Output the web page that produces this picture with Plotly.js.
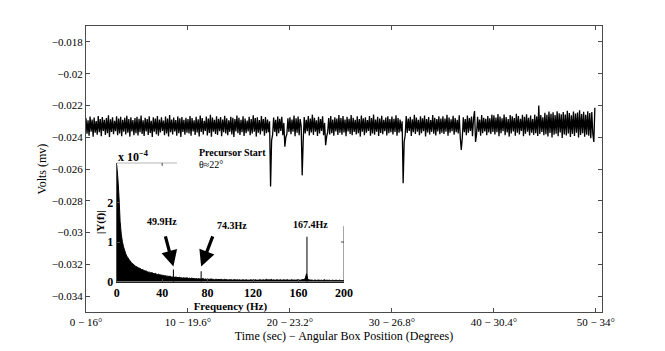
<!DOCTYPE html>
<html>
<head>
<meta charset="utf-8">
<script src="https://cdn.plot.ly/plotly-3.0.1.min.js"></script>
<style>
    html, body { margin: 0; padding: 0; background: #fff; }
    #plot { width: 665px; height: 351px; }
</style>
</head>
<body>
<div id="plot"></div>
<script>
// Sampled voltage, one value every 0.1 s, in units of 1e-5 mV
var signalE5 = [
    -2281,-2378,-2294,-2390,-2270,-2365,-2288,-2397,-2276,-2372,-2299,-2384,-2267,-2369,-2285,-2393,-2273,-2361,-2291,-2386,
    -2279,-2374,-2262,-2399,-2287,-2367,-2275,-2381,-2296,-2362,-2269,-2388,-2283,-2376,-2271,-2394,-2290,-2366,-2278,-2383,
    -2265,-2371,-2286,-2396,-2274,-2363,-2292,-2387,-2280,-2375,
    -2272,-2389,-2284,-2368,-2263,-2379,-2293,-2392,-2277,-2364,-2286,-2385,-2268,-2373,-2297,-2398,-2275,-2366,-2282,-2381,
    -2266,-2391,-2289,-2370,-2274,-2360,-2295,-2387,-2270,-2377,-2283,-2395,-2261,-2368,-2288,-2382,-2276,-2363,-2292,-2390,
    -2269,-2374,-2281,-2399,-2273,-2367,-2290,-2384,-2278,-2371,
    -2285,-2376,-2266,-2391,-2279,-2364,-2293,-2386,-2272,-2370,-2287,-2395,-2264,-2367,-2280,-2382,-2296,-2361,-2270,-2389,
    -2283,-2373,-2259,-2397,-2276,-2365,-2291,-2380,-2268,-2386,-2284,-2362,-2273,-2393,-2289,-2369,-2265,-2377,-2281,-2388,
    -2294,-2366,-2271,-2383,-2278,-2399,-2286,-2364,-2263,-2375,
    -2277,-2386,-2290,-2369,-2268,-2392,-2283,-2374,-2295,-2363,-2271,-2388,-2286,-2377,-2262,-2366,-2280,-2396,-2274,-2371,
    -2292,-2383,-2267,-2362,-2285,-2390,-2273,-2375,-2289,-2368,-2300,-2710,-2420,-2384,-2276,-2366,-2291,-2393,-2269,-2374,
    -2284,-2361,-2272,-2388,-2310,-2460,-2400,-2379,-2281,-2367,
    -2275,-2381,-2289,-2366,-2264,-2393,-2281,-2372,-2270,-2387,-2286,-2330,-2640,-2420,-2273,-2376,-2291,-2362,-2267,-2389,
    -2282,-2370,-2258,-2385,-2278,-2365,-2294,-2392,-2271,-2377,-2285,-2360,-2269,-2388,-2310,-2450,-2395,-2368,-2279,-2383,
    -2266,-2374,-2288,-2391,-2274,-2363,-2283,-2386,-2261,-2371,
    -2280,-2384,-2266,-2370,-2289,-2393,-2272,-2363,-2284,-2379,-2260,-2388,-2277,-2367,-2291,-2382,-2269,-2374,-2286,-2396,
    -2263,-2365,-2281,-2387,-2274,-2371,-2292,-2360,-2267,-2390,-2279,-2377,-2257,-2384,-2288,-2366,-2271,-2392,-2283,-2373,
    -2265,-2381,-2290,-2362,-2276,-2389,-2268,-2375,-2285,-2368,
    -2270,-2383,-2284,-2367,-2262,-2390,-2279,-2372,-2288,-2364,-2300,-2690,-2430,-2386,-2266,-2373,-2283,-2361,-2271,-2392,
    -2287,-2369,-2259,-2380,-2276,-2365,-2290,-2388,-2268,-2374,-2281,-2362,-2264,-2395,-2285,-2370,-2273,-2383,-2292,-2366,
    -2261,-2378,-2278,-2389,-2286,-2363,-2269,-2381,-2283,-2372,
    -2268,-2380,-2282,-2366,-2259,-2391,-2276,-2371,-2287,-2362,-2265,-2384,-2279,-2369,-2290,-2377,-2262,-2400,-2480,-2405,
    -2274,-2368,-2285,-2387,-2263,-2372,-2280,-2361,-2270,-2393,-2283,-2235,-2430,-2382,-2272,-2365,-2288,-2390,-2260,-2374,
    -2277,-2363,-2284,-2388,-2266,-2370,-2281,-2379,-2258,-2367,
    -2262,-2382,-2276,-2368,-2254,-2393,-2270,-2374,-2281,-2362,-2257,-2387,-2273,-2370,-2285,-2396,-2260,-2376,-2268,-2364,
    -2279,-2390,-2252,-2372,-2266,-2383,-2284,-2361,-2259,-2394,-2271,-2378,-2255,-2366,-2278,-2389,-2263,-2371,-2286,-2385,
    -2258,-2375,-2269,-2392,-2200,-2380,-2261,-2367,-2274,-2388,
    -2246,-2381,-2258,-2396,-2239,-2373,-2252,-2401,-2243,-2385,-2261,-2378,-2236,-2393,-2249,-2370,-2255,-2404,-2241,-2383,
    -2257,-2389,-2233,-2376,-2248,-2398,-2262,-2379,-2238,-2392,-2251,-2371,-2244,-2402,-2230,-2386,-2254,-2375,-2240,-2397,
    -2259,-2384,-2237,-2391,-2247,-2406,-2242,-2380,-2430,-2215
];
var sampleStep = 0.1;

var timeTicks = [0, 10, 20, 30, 40, 50];
var timeTickText = ['0 − 16°', '10 − 19.6°', '20 − 23.2°', '30 − 26.8°', '40 − 30.4°', '50 − 34°'];
var voltTicks = [-0.034, -0.032, -0.03, -0.028, -0.026, -0.024, -0.022, -0.02, -0.018];
var voltTickText = ['−0.034', '−0.032', '−0.03', '−0.028', '−0.026', '−0.024', '−0.022', '−0.02', '−0.018'];

// |Y(f)| at 1 Hz steps from 0 to 200 Hz, in units of 1e-4
var fftMag = [
    2.95, 2.62, 2.15, 1.52, 1.2, 1.01, 0.88, 0.79, 0.7, 0.64,
    0.6, 0.55, 0.52, 0.47, 0.46, 0.42, 0.41, 0.38, 0.37, 0.35,
    0.34, 0.33, 0.3, 0.31, 0.28, 0.27, 0.27, 0.25, 0.24, 0.24,
    0.22, 0.23, 0.21, 0.2, 0.21, 0.19, 0.18, 0.19, 0.17, 0.17,
    0.16, 0.16, 0.15, 0.15, 0.14, 0.14, 0.13, 0.14, 0.12, 0.12,
    0.12, 0.11, 0.12, 0.11, 0.1, 0.11, 0.1, 0.1, 0.09, 0.1,
    0.09, 0.09, 0.1, 0.08, 0.09, 0.08, 0.09, 0.08, 0.08, 0.07,
    0.08, 0.07, 0.08, 0.07, 0.07, 0.07, 0.08, 0.06, 0.07, 0.06,
    0.07, 0.06, 0.06, 0.07, 0.06, 0.06, 0.05, 0.06, 0.06, 0.05,
    0.06, 0.05, 0.06, 0.05, 0.05, 0.06, 0.05, 0.05, 0.04, 0.05,
    0.05, 0.05, 0.04, 0.05, 0.05, 0.04, 0.05, 0.04, 0.05, 0.04,
    0.04, 0.05, 0.04, 0.04, 0.05, 0.04, 0.04, 0.04, 0.05, 0.04,
    0.04, 0.04, 0.05, 0.04, 0.04, 0.04, 0.05, 0.04, 0.04, 0.05,
    0.04, 0.05, 0.06, 0.04, 0.05, 0.04, 0.06, 0.04, 0.05, 0.04,
    0.04, 0.05, 0.04, 0.04, 0.05, 0.04, 0.04, 0.05, 0.04, 0.04,
    0.05, 0.04, 0.04, 0.04, 0.05, 0.04, 0.04, 0.04, 0.04, 0.05,
    0.04, 0.04, 0.04, 0.05, 0.05, 0.06, 0.09, 0.2, 0.08, 0.05,
    0.04, 0.04, 0.04, 0.03, 0.04, 0.04, 0.03, 0.04, 0.04, 0.03,
    0.04, 0.03, 0.04, 0.05, 0.03, 0.04, 0.03, 0.04, 0.03, 0.03,
    0.04, 0.03, 0.03, 0.04, 0.03, 0.03, 0.04, 0.03, 0.03, 0.03,
    0.03
];
var peakFreq = [49.9, 74.3, 167.4];
var peakMag = [0.31, 0.26, 1.13];
var peakLabels = ['49.9Hz', '74.3Hz', '167.4Hz'];
var freqTicks = [0, 40, 80, 120, 160, 200];
var magTicks = [0, 1, 2];

(function (document, window) {

    var serif = 'Liberation Serif, Times New Roman, serif';
    var axisColor = '#4a4a4a';

    document.addEventListener("DOMContentLoaded", function () {
        var time = signalE5.map(function (v, i) { return i * sampleStep; });
        var volts = signalE5.map(function (v) { return v / 1e5; });
        var freq = fftMag.map(function (v, i) { return i; });

        var signal = {
            x: time, y: volts, type: 'scatter', mode: 'lines',
            line: { color: '#000', width: 1.3, simplify: false }, hoverinfo: 'skip'
        };
        var spectrum = {
            x: freq, y: fftMag, xaxis: 'x2', yaxis: 'y2', type: 'scatter', mode: 'lines',
            fill: 'tozeroy', fillcolor: '#000', line: { color: '#000', width: 1, simplify: false }, hoverinfo: 'skip'
        };
        var peaks = {
            x: peakFreq, y: peakMag, xaxis: 'x2', yaxis: 'y2', type: 'bar', width: 0.9,
            marker: { color: '#000', line: { width: 0 } }, hoverinfo: 'skip'
        };

        // arrows pointing at the small peaks of the inset
        var annotations = [
            { x: peakFreq[0], y: 0.38, ax: 42.5, ay: 1.18 },
            { x: peakFreq[1], y: 0.38, ax: 85, ay: 1.18 }
        ].map(function (a) {
            return {
                xref: 'x2', yref: 'y2', axref: 'x2', ayref: 'y2', x: a.x, y: a.y, ax: a.ax, ay: a.ay,
                text: '', showarrow: true, arrowhead: 2, arrowsize: 1, arrowwidth: 3.2, arrowcolor: '#000'
            };
        });
        var labelPos = [[39.8, 1.51], [101.5, 1.41], [170.4, 1.43]];
        peakLabels.forEach(function (txt, i) {
            annotations.push({
                xref: 'x2', yref: 'y2', x: labelPos[i][0], y: labelPos[i][1], text: '<b>' + txt + '</b>',
                showarrow: false, font: { family: serif, size: 10, color: '#000' }
            });
        });
        // these sit above the inset, so they are placed on the paper
        annotations.push({
            xref: 'paper', yref: 'paper', x: 0.058, y: 0.542, xanchor: 'left', text: '<b>x 10<sup>−4</sup></b>',
            showarrow: false, font: { family: serif, size: 12, color: '#000' }
        });
        annotations.push({
            xref: 'paper', yref: 'paper', x: 0.216, y: 0.556, xanchor: 'left', text: '<b>Precursor Start</b>',
            showarrow: false, font: { family: serif, size: 10, color: '#000' }
        });
        annotations.push({
            xref: 'paper', yref: 'paper', x: 0.216, y: 0.514, xanchor: 'left', text: 'θ≈22°',
            showarrow: false, font: { family: serif, size: 10, color: '#000' }
        });

        // the inset box is only partly drawn on top and right
        var edge = { type: 'line', xref: 'x2', yref: 'y2', line: { color: axisColor, width: 1 } };
        var shapes = [
            Object.assign({ x0: 0, x1: 53, y0: 3, y1: 3 }, edge),
            Object.assign({ x0: 40, x1: 40, y0: 3, y1: 2.92 }, edge),
            Object.assign({ x0: 200, x1: 200, y0: 0, y1: 1.4 }, edge),
            Object.assign({ x0: 200, x1: 197.4, y0: 1, y1: 1 }, edge)
        ];

        var layout = {
            width: 665, height: 351,
            margin: { l: 86, r: 63, t: 26, b: 39 },
            paper_bgcolor: '#fff', plot_bgcolor: 'rgba(0,0,0,0)',
            showlegend: false, barmode: 'overlay',
            font: { family: serif, size: 11, color: '#000' },
            xaxis: {
                range: [0, 50.6], tickmode: 'array', tickvals: timeTicks, ticktext: timeTickText,
                ticks: 'inside', ticklen: 4, tickcolor: axisColor, showline: true, linecolor: axisColor,
                mirror: 'ticks', showgrid: false, zeroline: false,
                title: { text: 'Time (sec) − Angular Box Position (Degrees)', font: { size: 12 }, standoff: 4 }
            },
            yaxis: {
                range: [-0.035, -0.017], tickmode: 'array', tickvals: voltTicks, ticktext: voltTickText,
                ticks: 'inside', ticklen: 4, tickcolor: axisColor, showline: true, linecolor: axisColor,
                mirror: 'ticks', showgrid: false, zeroline: false,
                title: { text: 'Volts (mv)', font: { size: 12 }, standoff: 2 }
            },
            xaxis2: {
                domain: [0.0595, 0.5], anchor: 'y2', range: [0, 200], tickmode: 'array', tickvals: freqTicks,
                ticks: 'inside', ticklen: 3, tickcolor: axisColor, showline: true, linecolor: '#222',
                showgrid: false, zeroline: false, tickfont: { size: 12, weight: 'bold' },
                title: { text: '<b>Frequency (Hz)</b>', font: { size: 11 }, standoff: 0 }
            },
            yaxis2: {
                domain: [0.106, 0.522], anchor: 'x2', range: [0, 3], tickmode: 'array', tickvals: magTicks,
                ticks: 'inside', ticklen: 3, tickcolor: axisColor, showline: true, linecolor: axisColor,
                showgrid: false, zeroline: false, tickfont: { size: 12, weight: 'bold' },
                title: { text: '<b>|Y(f)|</b>', font: { size: 11 }, standoff: 0 }
            },
            shapes: shapes,
            annotations: annotations
        };

        Plotly.newPlot('plot', [signal, spectrum, peaks], layout, { displayModeBar: false, staticPlot: true });
    });

})(document, window);
</script>
</body>
</html>
